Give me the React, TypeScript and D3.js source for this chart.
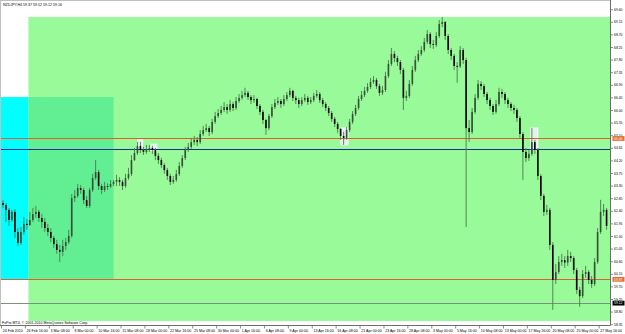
import React from "react";
import * as d3 from "d3";

const W = 625;
const H = 334;

// Each drawn candle stands for two H4 bars of NZDJPY
const opens = [62.70,62.62,62.45,62.09,62.38,61.66,61.27,61.66,61.95,61.91,62.09,62.30,62.38,62.16,62.02,61.80,61.66,61.45,61.23,61.02,60.95,61.16,61.30,61.52,62.87,62.95,63.23,63.16,62.80,62.59,63.16,63.59,63.80,63.30,63.16,63.30,63.28,63.37,63.45,63.52,63.45,63.30,63.59,63.73,64.23,64.48,64.73,64.59,64.52,64.59,64.66,64.59,64.38,64.23,64.05,63.87,63.66,63.45,63.52,63.73,64.02,64.30,64.59,64.70,64.87,64.95,64.87,65.16,65.30,65.37,65.23,65.59,65.80,65.91,66.02,66.12,66.02,66.23,66.09,66.34,66.45,66.55,66.63,66.48,66.37,66.41,66.16,65.95,65.66,65.37,65.80,66.12,66.27,66.34,66.23,66.41,66.55,66.70,66.45,66.37,66.23,66.37,66.45,66.30,66.37,66.52,66.59,66.37,66.23,66.09,65.91,65.70,65.52,65.34,65.09,65.02,65.30,65.59,65.87,66.09,66.41,66.55,66.70,66.84,67.02,67.09,66.87,66.63,66.73,67.23,67.66,68.02,67.87,67.73,67.45,66.45,66.52,66.95,67.45,67.80,68.02,68.16,68.45,68.73,68.37,68.34,68.66,69.09,69.16,68.66,68.16,67.95,67.59,67.57,68.16,67.80,65.37,65.23,65.95,66.45,66.95,66.87,66.59,66.37,66.16,65.95,66.23,66.66,66.59,66.37,66.23,66.09,66.02,65.73,65.16,64.52,64.30,64.45,64.87,64.59,63.66,62.95,62.38,62.45,61.20,59.95,60.23,60.59,60.66,60.57,60.80,60.73,60.30,59.59,59.37,60.16,60.23,59.95,59.80,60.59,61.66,62.38,62.45];
const highs = [62.80,62.70,62.52,62.45,62.48,61.80,61.84,62.20,62.12,62.38,62.52,62.59,62.45,62.30,62.16,61.95,61.80,61.52,61.38,61.20,61.38,61.45,61.74,63.02,63.16,63.38,63.34,63.24,62.95,63.24,63.74,64.23,63.88,63.38,63.45,63.40,63.52,63.52,63.70,63.62,63.52,63.74,63.95,64.41,64.66,64.88,64.88,64.70,64.77,64.77,64.74,64.66,64.48,64.31,64.12,63.95,63.74,63.66,63.88,64.16,64.41,64.70,64.84,65.02,65.09,65.05,65.30,65.45,65.52,65.45,65.70,65.95,66.05,66.16,66.30,66.23,66.38,66.31,66.48,66.59,66.70,66.81,66.70,66.55,66.55,66.45,66.23,66.02,65.70,65.88,66.23,66.41,66.48,66.41,66.55,66.66,66.81,66.74,66.52,66.45,66.48,66.59,66.52,66.48,66.63,66.73,66.66,66.45,66.30,66.16,65.98,65.77,65.59,65.38,65.24,65.41,65.70,65.98,66.20,66.52,66.70,66.84,66.98,67.16,67.23,67.16,66.95,66.88,67.38,67.80,68.23,68.12,67.95,67.80,67.52,66.70,67.09,67.59,67.95,68.16,68.30,68.59,68.87,68.80,68.52,68.80,69.23,69.34,69.20,68.73,68.23,68.02,67.73,68.30,68.23,67.88,65.66,66.09,66.59,67.09,67.05,66.95,66.66,66.45,66.23,66.38,66.81,66.77,66.66,66.45,66.30,66.20,66.09,65.80,65.23,64.66,64.59,65.38,64.95,64.66,63.73,63.02,62.63,62.52,61.30,60.52,60.80,60.88,60.80,61.02,60.95,60.80,60.38,59.70,60.30,60.45,60.30,60.09,60.73,61.80,62.81,62.66,62.52];
const lows = [62.52,62.02,61.88,62.02,61.45,61.16,61.20,61.56,61.74,61.88,62.02,62.16,62.02,61.80,61.66,61.52,61.30,61.09,60.88,60.59,60.80,61.02,61.23,61.45,62.73,62.88,63.02,62.66,62.52,62.52,63.09,63.52,63.16,63.02,63.09,63.16,63.24,63.30,63.30,63.31,63.16,63.24,63.52,63.66,64.20,64.41,64.48,64.41,64.45,64.52,64.45,64.23,64.09,63.95,63.74,63.52,63.34,63.38,63.45,63.66,63.95,64.23,64.52,64.63,64.77,64.73,64.80,65.09,65.23,65.09,65.16,65.52,65.73,65.84,65.95,65.88,65.95,65.98,66.02,66.27,66.38,66.48,66.38,66.23,66.27,66.05,65.84,65.52,65.13,65.30,65.73,66.05,66.20,66.09,66.16,66.34,66.48,66.34,66.23,66.09,66.16,66.30,66.20,66.23,66.30,66.45,66.27,66.12,65.98,65.80,65.59,65.41,65.20,64.95,64.77,64.95,65.23,65.52,65.80,66.02,66.34,66.48,66.63,66.77,66.95,66.77,66.52,66.55,66.66,67.16,67.59,67.73,67.59,67.30,66.02,66.34,66.45,66.88,67.38,67.73,67.95,68.09,68.37,68.23,68.20,68.27,68.59,68.98,68.52,68.02,67.80,67.45,66.99,67.52,67.66,61.84,64.88,65.16,65.88,66.38,66.73,66.48,66.23,66.02,65.84,65.88,66.16,66.45,66.23,66.09,65.98,65.88,65.59,65.02,63.52,64.16,64.20,64.38,64.45,63.52,62.80,62.23,62.27,61.02,58.88,59.80,60.16,60.45,60.38,60.45,60.59,60.16,59.45,58.99,59.30,60.02,59.80,59.66,59.73,60.52,61.59,62.23,61.74];
const closes = [62.62,62.45,62.09,62.38,61.66,61.27,61.66,61.95,61.91,62.09,62.30,62.38,62.16,62.02,61.80,61.66,61.45,61.23,61.02,60.95,61.16,61.30,61.52,62.87,62.95,63.23,63.16,62.80,62.59,63.16,63.59,63.80,63.30,63.16,63.30,63.28,63.37,63.45,63.52,63.45,63.30,63.59,63.73,64.23,64.48,64.73,64.59,64.52,64.59,64.66,64.59,64.38,64.23,64.05,63.87,63.66,63.45,63.52,63.73,64.02,64.30,64.59,64.70,64.87,64.95,64.87,65.16,65.30,65.37,65.23,65.59,65.80,65.91,66.02,66.12,66.02,66.23,66.09,66.34,66.45,66.55,66.63,66.48,66.37,66.41,66.16,65.95,65.66,65.37,65.80,66.12,66.27,66.34,66.23,66.41,66.55,66.70,66.45,66.37,66.23,66.37,66.45,66.30,66.37,66.52,66.59,66.37,66.23,66.09,65.91,65.70,65.52,65.34,65.09,65.02,65.30,65.59,65.87,66.09,66.41,66.55,66.70,66.84,67.02,67.09,66.87,66.63,66.73,67.23,67.66,68.02,67.87,67.73,67.45,66.45,66.52,66.95,67.45,67.80,68.02,68.16,68.45,68.73,68.37,68.34,68.66,69.09,69.16,68.66,68.16,67.95,67.59,67.57,68.16,67.80,65.37,65.23,65.95,66.45,66.95,66.87,66.59,66.37,66.16,65.95,66.23,66.66,66.59,66.37,66.23,66.09,66.02,65.73,65.16,64.52,64.30,64.45,64.87,64.59,63.66,62.95,62.38,62.45,61.20,59.95,60.23,60.59,60.66,60.57,60.80,60.73,60.30,59.59,59.37,60.16,60.23,59.95,59.80,60.59,61.66,62.38,62.45,61.88];

const priceTicks = ["69.60","69.15","68.70","68.25","67.80","67.35","66.90","66.45","66.00","65.55","65.10","64.65","64.20","63.75","63.30","62.85","62.40","61.95","61.50","61.05","60.60","60.15","59.70","59.25","58.80","58.35"];
const dateLabels = ["24 Feb 2010","26 Feb 16:00","3 Mar 08:00","8 Mar 00:00","10 Mar 16:00","15 Mar 08:00","18 Mar 00:00","22 Mar 16:00","25 Mar 08:00","30 Mar 00:00","1 Apr 16:00","6 Apr 08:00","9 Apr 00:00","13 Apr 16:00","16 Apr 08:00","21 Apr 00:00","23 Apr 16:00","28 Apr 08:00","3 May 00:00","5 May 16:00","10 May 08:00","13 May 00:00","17 May 16:00","20 May 08:00","25 May 00:00","27 May 16:00"];

// horizontal level lines (price) and their axis tags
const levelPrices = [65.0, 64.64, 59.97, 59.12];
const levelTags = ["65.00", "", "59.97", "59.12"];

// rectangles: [bar from, bar to], [price top, price bottom]
const zoneBars = [[-10, 18], [18, 75], [18, 420]];
const zonePrices = [[66.48, 59.97], [66.48, 59.97], [69.34, 58.48]];
// highlighted (selected) candle boxes
const boxBars = [[91, 94.5], [100, 104], [227, 232], [354, 359]];
const boxPrices = [[64.95, 64.66], [64.80, 64.56], [65.38, 64.77], [65.38, 64.59]];

const title = "NZDJPY,H4  59.37 59.52 59.12 59.16";
const copyright = "FxPro MT4, \u00A9 2001-2010 MetaQuotes Software Corp.";

const BARS_PER_CANDLE = 2;
const BARS_PER_LABEL = 16;
const BAR_PX = 1.494;

export default function App() {
  const plotRight = 610.5;
  const plotBottom = 325.5;
  const x = d3.scaleLinear().domain([0, 408]).range([1.5, 1.5 + 408 * BAR_PX]);
  const y = d3.scaleLinear().domain([69.946, 58.30]).range([0, 326.088]);
  const font = "'Liberation Sans', Arial, sans-serif";

  const zoneColors = ["#00ffff", "#62ef93", "#98fa98"];
  const levelColors = ["#e0602a", "#1a2a9a", "#e0602a", "#7d8f7d"];
  const tagFill = ["#e07030", "none", "#e07030", "#000000"];

  const candles = closes.map((c, i) => ({
    o: opens[i], h: highs[i], l: lows[i], c, i,
  }));

  const candleW = BARS_PER_CANDLE * BAR_PX;

  return (
    <div style={{ position: "fixed", left: 0, top: 0, width: W, height: H, background: "#fff" }}>
      <svg width={W} height={H} style={{ display: "block" }}>
        <defs>
          <clipPath id="plot">
            <rect x={0} y={0} width={plotRight} height={plotBottom} />
          </clipPath>
        </defs>
        <rect x={0} y={0} width={W} height={H} fill="#ffffff" />
        <g clipPath="url(#plot)">
          {[2, 0, 1].map((k) => (
            <rect
              key={"z" + k}
              x={x(zoneBars[k][0])}
              y={y(zonePrices[k][0])}
              width={x(zoneBars[k][1]) - x(zoneBars[k][0])}
              height={y(zonePrices[k][1]) - y(zonePrices[k][0])}
              fill={zoneColors[k]}
            />
          ))}
          {boxBars.map((b, k) => (
            <rect
              key={"b" + k}
              x={x(b[0])}
              y={y(boxPrices[k][0])}
              width={x(b[1]) - x(b[0])}
              height={y(boxPrices[k][1]) - y(boxPrices[k][0])}
              fill="#eef0ff"
              fillOpacity={0.85}
              stroke="#ffffff"
              strokeWidth={0.8}
            />
          ))}
          {levelPrices.map((p, k) => (
            <line
              key={"l" + k}
              x1={0}
              x2={plotRight}
              y1={Math.round(y(p)) + 0.5}
              y2={Math.round(y(p)) + 0.5}
              stroke={levelColors[k]}
              strokeWidth={1}
            />
          ))}
          {candles.map((d) => {
            const cx = x(d.i * BARS_PER_CANDLE) + candleW / 2;
            const top = y(Math.max(d.o, d.c));
            const bot = y(Math.min(d.o, d.c));
            const up = d.c >= d.o;
            return (
              <g key={"c" + d.i}>
                <line x1={cx} x2={cx} y1={y(d.h)} y2={y(d.l)} stroke="#4b7a4b" strokeWidth={0.9} />
                <rect
                  x={cx - 0.8}
                  y={top}
                  width={1.6}
                  height={Math.max(0.8, bot - top)}
                  fill={up ? "#34503a" : "#000000"}
                />
              </g>
            );
          })}
        </g>

        <line x1={0.5} x2={0.5} y1={0} y2={plotBottom} stroke="#c0c0c0" />
        <line x1={0} x2={plotRight} y1={0.5} y2={0.5} stroke="#c0c0c0" />

        <line x1={plotRight} x2={plotRight} y1={0} y2={plotBottom} stroke="#6d6d6d" strokeWidth={1} />
        <line x1={0} x2={plotRight} y1={plotBottom} y2={plotBottom} stroke="#6d6d6d" strokeWidth={1} />

        {priceTicks.map((t) => {
          const yy = y(+t);
          return (
            <g key={"p" + t}>
              <line x1={plotRight} x2={plotRight + 2.5} y1={yy} y2={yy} stroke="#6d6d6d" strokeWidth={0.8} />
              <text x={614} y={yy + 1.2} fontSize={3.4} fontFamily={font} fill="#000">{t}</text>
            </g>
          );
        })}

        {levelPrices.map((p, k) =>
          levelTags[k] ? (
            <g key={"t" + k}>
              <rect x={612.5} y={y(p) - 2.4} width={12} height={4.8} fill={tagFill[k]} />
              <text x={614} y={y(p) + 1.2} fontSize={3.4} fontFamily={font} fill="#ffffff">{levelTags[k]}</text>
            </g>
          ) : null
        )}

        {dateLabels.map((t, k) => {
          const xx = x(k * BARS_PER_LABEL);
          return (
            <g key={"d" + k}>
              <line x1={xx} x2={xx} y1={plotBottom} y2={plotBottom + 3} stroke="#6d6d6d" strokeWidth={0.8} />
              <text x={xx + 1.2} y={331.8} fontSize={3.6} fontFamily={font} fill="#000">{t}</text>
            </g>
          );
        })}

        <text x={3} y={6.3} fontSize={3.6} fontFamily={font} fill="#000">{title}</text>
        <text x={2} y={323.6} fontSize={3.6} fontFamily={font} fill="#000">{copyright}</text>
      </svg>
    </div>
  );
}
